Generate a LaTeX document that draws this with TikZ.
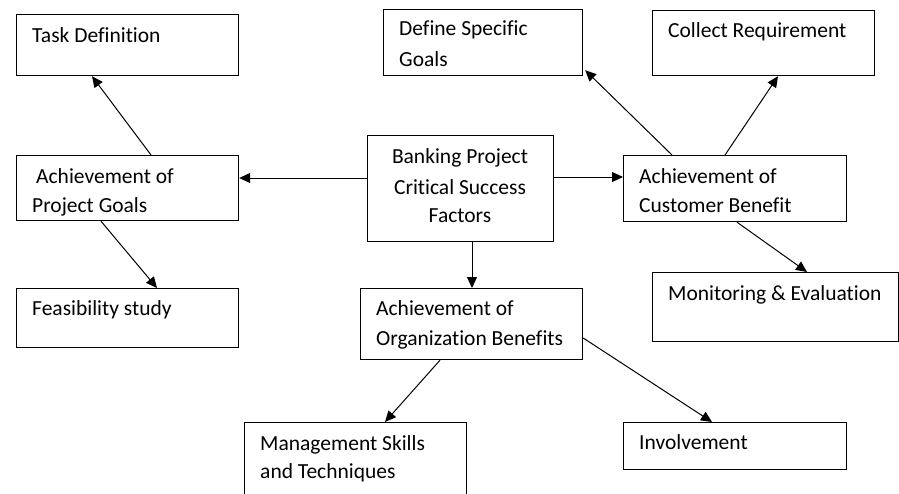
\documentclass[tikz,border=0pt]{standalone}
\usepackage{fontspec}
\setmainfont[Ligatures=NoCommon]{Carlito}
\usetikzlibrary{arrows.meta}
\begin{document}
\begin{tikzpicture}[x=1pt,y=-1pt,
  box/.style={draw,line width=1.2pt,inner sep=0pt,anchor=north west},
  txt/.style={anchor=base west,inner sep=0pt,font=\fontsize{21.5}{30}\selectfont},
  ctxt/.style={anchor=base,inner sep=0pt,font=\fontsize{21.5}{30}\selectfont},
  arr/.style={line width=1pt,-{Triangle[length=11pt,width=10pt]}}]
\clip (0,0) rectangle (899,493);
\fill[white] (0,0) rectangle (899,493);

% boxes
\node[box,minimum width=222pt,minimum height=61pt] (td) at (16,14) {};
\node[box,minimum width=222pt,minimum height=65pt] (apg) at (16,155) {};
\node[box,minimum width=222pt,minimum height=59pt] (fs) at (16,288) {};
\node[box,minimum width=199pt,minimum height=66pt] (dsg) at (383,9) {};
\node[box,minimum width=186pt,minimum height=106pt] (csf) at (367,135) {};
\node[box,minimum width=222pt,minimum height=71pt] (aob) at (360,288) {};
\node[box,minimum width=222pt,minimum height=90pt] (ms) at (244,422) {};
\node[box,minimum width=222pt,minimum height=65pt] (cr) at (652,10) {};
\node[box,minimum width=223pt,minimum height=66pt] (acb) at (623,155) {};
\node[box,minimum width=246pt,minimum height=69pt] (me) at (652,272) {};
\node[box,minimum width=223pt,minimum height=47pt] (inv) at (623,422) {};

% labels
\node[txt] (tdt) at (32,42) {Task Definition};
\node[txt] (apgt1) at (36,183) {Achievement of};
\node[txt] (apgt2) at (32,212) {Project Goals};
\node[txt] (fst) at (32,315) {Feasibility study};
\node[txt] (dsgt1) at (399,35) {Define Specific};
\node[txt] (dsgt2) at (399,66) {Goals};
\node[ctxt] (csft1) at (460,163) {Banking Project};
\node[ctxt] (csft2) at (460,194) {Critical Success};
\node[ctxt] (csft3) at (460,222) {Factors};
\node[txt] (aobt1) at (376,315) {Achievement of};
\node[txt] (aobt2) at (376,345) {Organization Benefits};
\node[txt] (mst1) at (260,450) {Management Skills};
\node[txt] (mst2) at (260,478) {and Techniques};
\node[txt] (crt) at (668,37) {Collect Requirement};
\node[txt] (acbt1) at (639,183) {Achievement of};
\node[txt] (acbt2) at (639,212) {Customer Benefit};
\node[txt] (met) at (668,300) {Monitoring \& Evaluation};
\node[txt] (invt) at (639,449) {Involvement};

% connectors (yshift is in canvas units: negative moves down)
\draw[arr] ([yshift=-43pt]csf.north west) -- ([yshift=-23pt]apg.north east);
\draw[arr] ([yshift=-42pt]csf.north east) -- ([yshift=-22pt]acb.north west);
\draw[arr] ([xshift=105pt]csf.south west) -- ([xshift=112pt]aob.north west);
\draw[arr] ([xshift=135pt]apg.north west) -- ([xshift=76pt]td.south west);
\draw[arr] ([xshift=85pt]apg.south west) -- ([xshift=141pt]fs.north west);
\draw[arr] ([xshift=49pt]acb.north west) -- ([xshift=2pt,yshift=6pt]dsg.south east);
\draw[arr] ([xshift=102pt]acb.north west) -- ([xshift=126pt]cr.south west);
\draw[arr] ([xshift=114pt]acb.south west) -- ([xshift=155pt]me.north west);
\draw[arr] ([xshift=80pt]aob.south west) -- ([xshift=141pt]ms.north west);
\draw[arr] ([yshift=-50pt]aob.north east) -- ([xshift=89pt]inv.north west);
\end{tikzpicture}
\end{document}
